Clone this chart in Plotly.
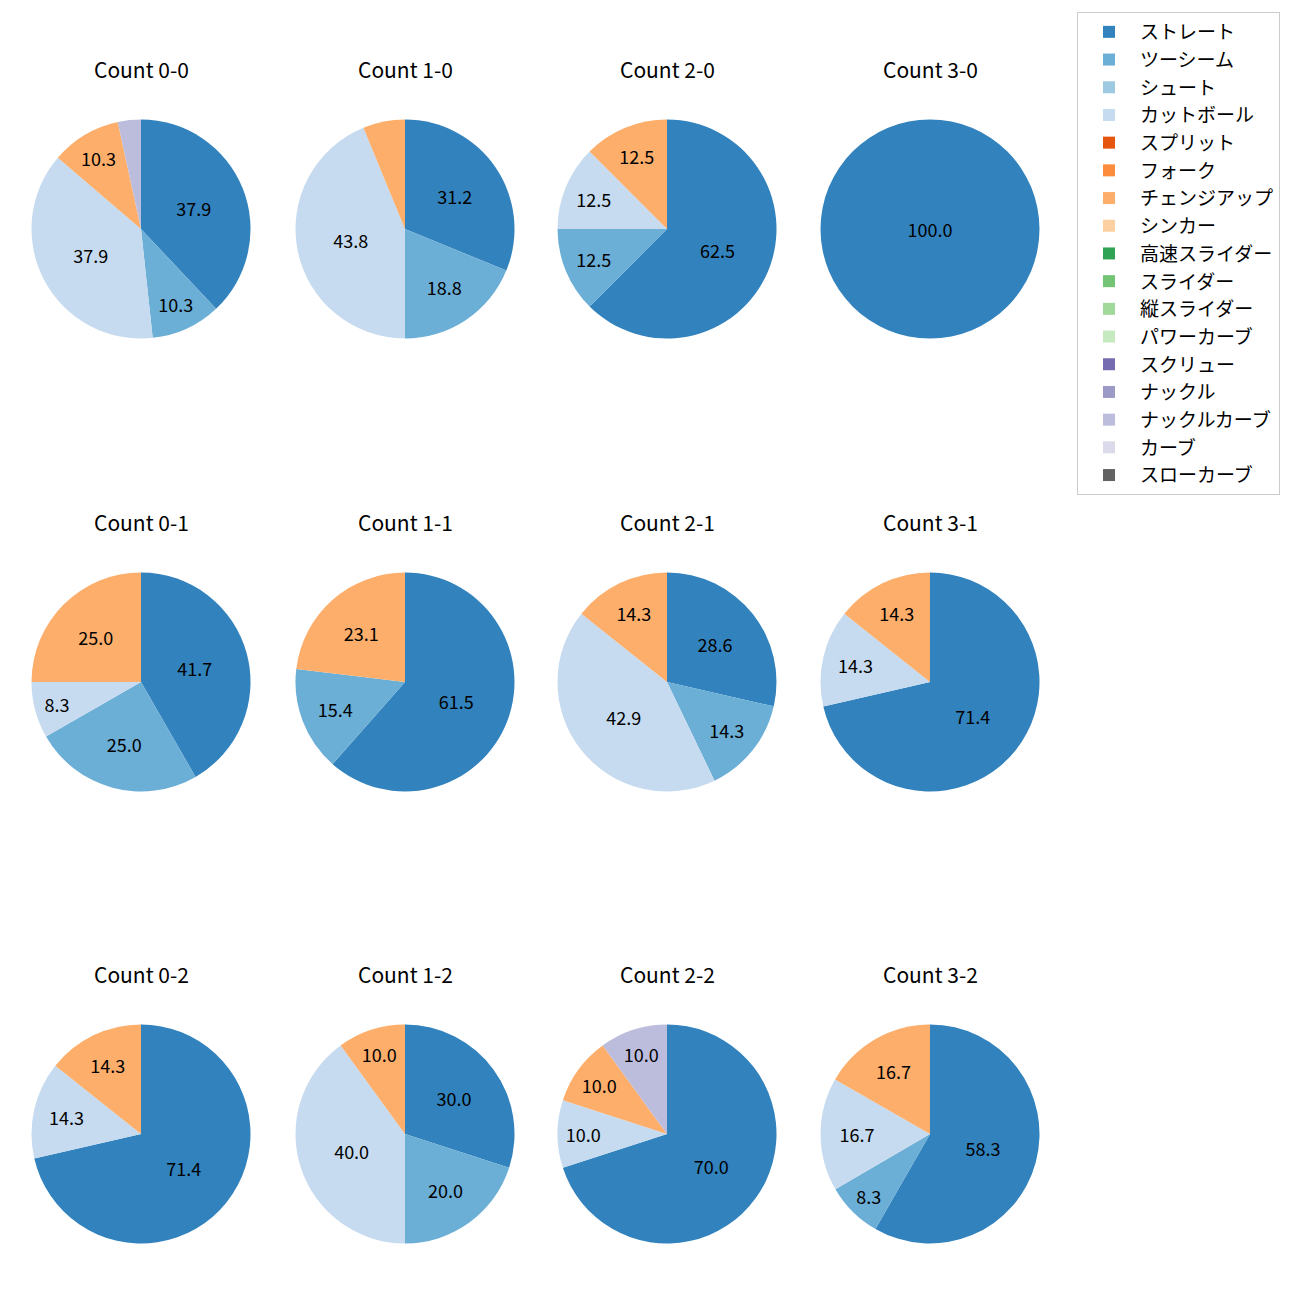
import plotly.graph_objects as go

# ---- data ----
pitch_types = ["ストレート", "ツーシーム", "シュート", "カットボール", "スプリット", "フォーク",
               "チェンジアップ", "シンカー", "高速スライダー", "スライダー", "縦スライダー",
               "パワーカーブ", "スクリュー", "ナックル", "ナックルカーブ", "カーブ", "スローカーブ"]
pitch_colors = ["#3182bd", "#6baed6", "#9ecae1", "#c6dbef", "#e6550d", "#fd8d3c",
                "#fdae6b", "#fdd0a2", "#31a354", "#74c476", "#a1d99b",
                "#c7e9c0", "#756bb1", "#9e9ac8", "#bcbddc", "#dadaeb", "#636363"]

counts = ["0-0", "1-0", "2-0", "3-0",
          "0-1", "1-1", "2-1", "3-1",
          "0-2", "1-2", "2-2", "3-2"]

# percentage per pitch type; only non-zero listed
share_0_0 = {"ストレート": 37.9, "ツーシーム": 10.3, "カットボール": 37.9, "チェンジアップ": 10.3, "ナックルカーブ": 3.4}
share_1_0 = {"ストレート": 31.2, "ツーシーム": 18.8, "カットボール": 43.8, "チェンジアップ": 6.2}
share_2_0 = {"ストレート": 62.5, "ツーシーム": 12.5, "カットボール": 12.5, "チェンジアップ": 12.5}
share_3_0 = {"ストレート": 100.0}
share_0_1 = {"ストレート": 41.7, "ツーシーム": 25.0, "カットボール": 8.3, "チェンジアップ": 25.0}
share_1_1 = {"ストレート": 61.5, "ツーシーム": 15.4, "チェンジアップ": 23.1}
share_2_1 = {"ストレート": 28.6, "ツーシーム": 14.3, "カットボール": 42.9, "チェンジアップ": 14.3}
share_3_1 = {"ストレート": 71.4, "カットボール": 14.3, "チェンジアップ": 14.3}
share_0_2 = {"ストレート": 71.4, "カットボール": 14.3, "チェンジアップ": 14.3}
share_1_2 = {"ストレート": 30.0, "ツーシーム": 20.0, "カットボール": 40.0, "チェンジアップ": 10.0}
share_2_2 = {"ストレート": 70.0, "カットボール": 10.0, "チェンジアップ": 10.0, "ナックルカーブ": 10.0}
share_3_2 = {"ストレート": 58.3, "ツーシーム": 8.3, "カットボール": 16.7, "チェンジアップ": 16.7}

shares = [share_0_0, share_1_0, share_2_0, share_3_0,
          share_0_1, share_1_1, share_2_1, share_3_1,
          share_0_2, share_1_2, share_2_2, share_3_2]

# ---- layout constants (page pixels) ----
W = H = 1300
OFF = 8  # page body margin
col_cx = [141, 405, 667, 930]
row_cy = [229, 682, 1134]
R = 109.5
title_dy = 160
FONT = "Noto Sans CJK JP"


def px(x):
    return (x - OFF) / W


def py(y):
    return 1 - (y - OFF) / H


fig = go.Figure()
annotations = []
for i, (cnt, sh) in enumerate(zip(counts, shares)):
    r, c = divmod(i, 4)
    cx, cy = col_cx[c], row_cy[r]
    vals = [sh.get(p, 0) for p in pitch_types]
    txt = [f"{v:.1f}" if v >= 7 else "" for v in vals]
    fig.add_trace(go.Pie(
        labels=pitch_types,
        values=vals,
        text=txt,
        textinfo="text",
        textposition="inside",
        insidetextorientation="horizontal",
        textfont=dict(size=18, color="black", family=FONT),
        marker=dict(colors=pitch_colors, line=dict(width=0)),
        sort=False,
        direction="clockwise",
        rotation=0,
        showlegend=(i == 0),
        domain=dict(x=[px(cx - R), px(cx + R)],
                    y=[py(cy + R), py(cy - R)]),
        hoverinfo="label+percent",
    ))
    annotations.append(dict(
        text=f"Count {cnt}", x=px(cx), y=py(cy - title_dy),
        xref="paper", yref="paper", xanchor="center", yanchor="middle",
        showarrow=False, font=dict(size=21, color="black", family=FONT)))

fig.update_layout(
    width=W, height=H,
    margin=dict(l=0, r=0, t=0, b=0),
    paper_bgcolor="white", plot_bgcolor="white",
    font=dict(family=FONT, color="black"),
    annotations=annotations,
    uniformtext=dict(minsize=18, mode="show"),
    legend=dict(
        x=px(1077), y=py(12), xanchor="left", yanchor="top",
        bgcolor="white", bordercolor="#cccccc", borderwidth=1,
        font=dict(size=19, family=FONT, color="black"),
        itemwidth=52,
        traceorder="normal",
    ),
)

fig.write_html("out.html")
